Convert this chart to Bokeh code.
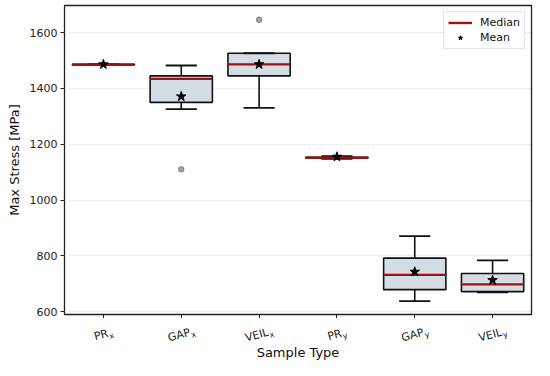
import math
from bokeh.plotting import figure
from bokeh.layouts import column
from bokeh.models import Range1d, FixedTicker, Legend, LegendItem, ColumnDataSource
from bokeh.core.properties import value
from bokeh.embed import file_html
from bokeh.resources import INLINE

# ---- data ----
names = ["PR", "GAP", "VEIL", "PR", "GAP", "VEIL"]
subs = ["x", "x", "x", "y", "y", "y"]
whisk_lo = [1485, 1326, 1330, 1148, 638, 669]
q1 = [1485, 1350, 1445, 1151, 679, 672]
median = [1485, 1434, 1486, 1152, 732, 698]
q3 = [1486, 1445, 1526, 1153, 792, 737]
whisk_hi = [1486, 1482, 1526, 1157, 871, 784]
mean = [1486, 1371, 1486, 1155, 743, 713]
outlier_pos = [1, 2]
outlier_val = [1110, 1646]
y_ticks = [600, 800, 1000, 1200, 1400, 1600]
x_label = "Sample Type"
y_label = "Max Stress [MPa]"

FONT = "DejaVu Sans"
BOX_HALF = 0.4
CAP_HALF = 0.2
pos = list(range(len(names)))

W = 534
LEFT, RIGHT = 64, 3
H1, H2 = 318, 42
X0, X1 = -0.5, 5.5

p = figure(width=W, height=H1, output_backend="svg", toolbar_location=None,
           x_range=Range1d(X0, X1), y_range=Range1d(590, 1697),
           min_border_left=LEFT, min_border_right=RIGHT, min_border_top=5,
           min_border_bottom=0)
p.background_fill_color = "white"
p.border_fill_color = "white"
p.outline_line_color = "#222222"
p.outline_line_width = 1.3

p.xgrid.visible = False
p.ygrid.grid_line_color = "#d6d6d6"
p.ygrid.grid_line_dash = "2 2"
p.ygrid.grid_line_width = 0.8

for ax in (p.xaxis[0], p.yaxis[0]):
    ax.axis_line_color = None
    ax.major_tick_line_color = "#222222"
    ax.major_tick_line_width = 1
    ax.major_tick_out = 4
    ax.major_tick_in = 0
    ax.minor_tick_line_color = None
    ax.major_label_text_font = FONT
    ax.major_label_text_font_size = "11px"
    ax.major_label_text_color = "#222222"
    ax.axis_label_text_font = FONT
    ax.axis_label_text_font_size = "13px"
    ax.axis_label_text_font_style = "normal"
    ax.axis_label_text_color = "#111111"

p.yaxis.ticker = FixedTicker(ticks=y_ticks)
p.yaxis.axis_label = y_label
p.yaxis.major_label_standoff = 3
p.yaxis.axis_label_standoff = 5

p.xaxis.ticker = FixedTicker(ticks=pos)
p.xaxis.major_label_text_font_size = "0px"
p.xaxis.major_label_standoff = 0
p.xaxis.major_label_overrides = {i: "" for i in pos}

src = ColumnDataSource(dict(
    x=pos,
    left=[i - BOX_HALF for i in pos], right=[i + BOX_HALF for i in pos],
    cl=[i - CAP_HALF for i in pos], cr=[i + CAP_HALF for i in pos],
    lo=whisk_lo, q1=q1, med=median, q3=q3, hi=whisk_hi, mean=mean))

p.quad(left="left", right="right", bottom="q1", top="q3", source=src,
       fill_color="#d3dde3", line_color="#111111", line_width=1.6)
p.segment(x0="x", y0="lo", x1="x", y1="q1", source=src,
          line_color="#111111", line_width=1.6)
p.segment(x0="x", y0="q3", x1="x", y1="hi", source=src,
          line_color="#111111", line_width=1.6)
p.segment(x0="cl", y0="lo", x1="cr", y1="lo", source=src,
          line_color="#111111", line_width=1.8)
p.segment(x0="cl", y0="hi", x1="cr", y1="hi", source=src,
          line_color="#111111", line_width=1.8)
med_r = p.segment(x0="left", y0="med", x1="right", y1="med", source=src,
                  line_color="#a30f0f", line_width=2.4)
mean_r = p.scatter(x="x", y="mean", source=src, marker="star", size=10,
                   fill_color="black", line_color="black")
p.scatter(x=outlier_pos, y=outlier_val, marker="circle", size=5.5,
          fill_color="#a5a5a5", line_color="#6f6f6f", line_width=0.8)

legend = Legend(items=[LegendItem(label="Median", renderers=[med_r]),
                       LegendItem(label="Mean", renderers=[mean_r])],
                location="top_right")
legend.label_text_font = FONT
legend.label_text_font_size = "11px"
legend.label_text_color = "#111111"
legend.border_line_color = "#cccccc"
legend.border_line_width = 1
legend.background_fill_alpha = 0.85
legend.glyph_width = 24
legend.glyph_height = 11
legend.label_height = 11
legend.spacing = 2
legend.padding = 4
legend.margin = 6
legend.label_standoff = 8
p.add_layout(legend)

# ---- strip below the plot with rotated category labels (subscripts) ----
p2 = figure(width=W, height=H2, output_backend="svg", toolbar_location=None,
            x_range=p.x_range, y_range=Range1d(0, H2),
            x_axis_location=None, y_axis_location=None,
            min_border_left=LEFT, min_border_right=RIGHT, min_border_top=0,
            min_border_bottom=0)
p2.outline_line_color = None
p2.grid.visible = False
p2.background_fill_color = "white"
p2.border_fill_color = "white"

frame_w = W - LEFT - RIGHT
u = (X1 - X0) / frame_w  # data units per pixel

theta = math.radians(15)
FS = 11.0
SUB_FS = 8.0
adv = {"P": 0.603, "R": 0.695, "G": 0.775, "A": 0.684, "V": 0.684,
       "E": 0.632, "I": 0.295, "L": 0.557, "x": 0.592, "y": 0.592}
c, s = math.cos(theta), math.sin(theta)
LAB_Y = 26.0
mx_, my_, sx_, sy_ = [], [], [], []
for i, (nm, sb) in enumerate(zip(names, subs)):
    wm = sum(adv[ch] for ch in nm) * FS
    ws = adv[sb] * SUB_FS
    total = wm + ws
    dm = -total / 2 + wm / 2
    mx_.append(i + dm * c * u)
    my_.append(LAB_Y + dm * s)
    ds = -total / 2 + wm + ws / 2 + 0.5
    down = 3.5
    sx_.append(i + (ds * c + down * s) * u)
    sy_.append(LAB_Y + ds * s - down * c)

p2.text(x=mx_, y=my_, text=names, angle=theta, text_align="center",
        text_baseline="middle", text_font=value(FONT), text_font_size="11px",
        text_color="#222222")
p2.text(x=sx_, y=sy_, text=subs, angle=theta, text_align="center",
        text_baseline="middle", text_font=value(FONT), text_font_size="8px",
        text_color="#222222")
p2.text(x=[(X0 + X1) / 2], y=[8], text=[x_label], text_align="center",
        text_baseline="middle", text_font=value(FONT), text_font_size="13px",
        text_color="#111111")

layout = column(p, p2, spacing=0)
open("out.html", "w").write(file_html(layout, INLINE))
